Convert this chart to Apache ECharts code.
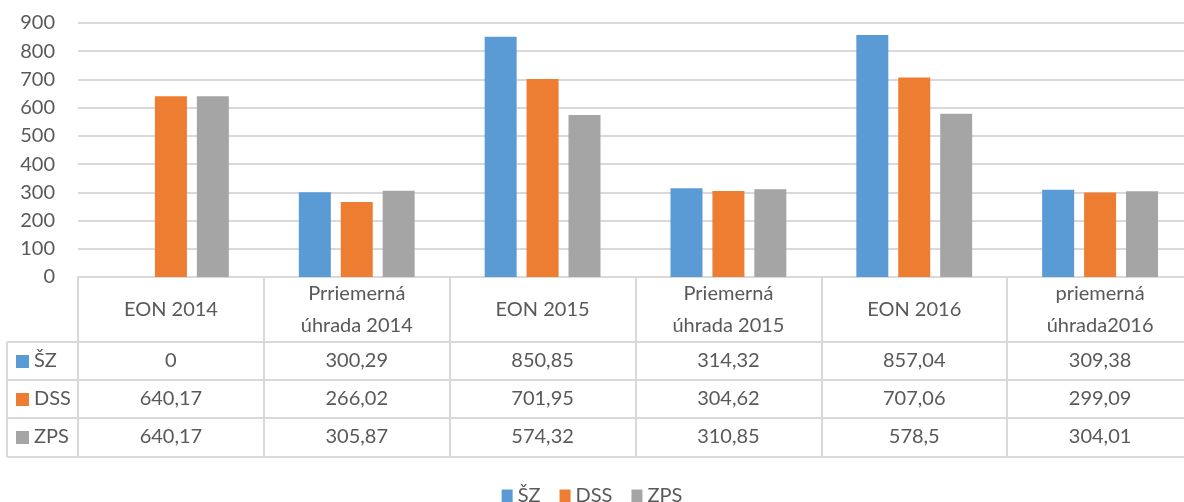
<!DOCTYPE html>
<html>
<head>
<meta charset="utf-8">
<script src="https://cdn.jsdelivr.net/npm/echarts@6/dist/echarts.min.js"></script>
<style>
  html, body { margin: 0; padding: 0; background: #fff; }
  #main { width: 1184px; height: 502px; }
</style>
</head>
<body>
<div id="main"></div>
<script>
// data
const categories = ['EON 2014', 'Prriemerná\núhrada 2014', 'EON 2015', 'Priemerná\núhrada 2015', 'EON 2016', 'priemerná\núhrada2016']
const seriesNames = ['ŠZ', 'DSS', 'ZPS']
const szValues = [0, 300.29, 850.85, 314.32, 857.04, 309.38]
const dssValues = [640.17, 266.02, 701.95, 304.62, 707.06, 299.09]
const zpsValues = [640.17, 305.87, 574.32, 310.85, 578.5, 304.01]
const yTicks = [0, 100, 200, 300, 400, 500, 600, 700, 800, 900]

const colors = ['#5b9bd5', '#ed7d31', '#a5a5a5']
const textColor = '#595959'
const lineColor = '#d9d9d9'
const font = 'Lato, "Open Sans", sans-serif'

// layout of the data table under the plot
const plotTop = 23
const axisY = 277
const headerH = 65
const rowH = 38
const tableLeft = 7
const rowTops = [axisY + headerH, axisY + headerH + rowH, axisY + headerH + rowH * 2]
const tableBottom = axisY + headerH + rowH * 3 + 1

const allValues = [szValues, dssValues, zpsValues]
const fmt = v => String(v).replace('.', ',')

const chart = echarts.init(document.getElementById('main'))

// header + value rows as one rich label per category
const labelFormatter = (value, idx) => {
  const lines = value.split('\n')
  let head
  if (lines.length === 1) {
    head = '{h|' + lines[0] + '}'
  } else {
    head = lines.map(l => '{h2|' + l + '}').join('\n')
  }
  const vals = allValues.map(arr => '{v|' + fmt(arr[idx]) + '}').join('\n')
  return head + '\n' + vals
}

const graphics = []
// horizontal row lines
rowTops.concat([tableBottom]).forEach(y => {
  graphics.push({
    type: 'line',
    shape: { x1: tableLeft, y1: y, x2: 1184, y2: y },
    style: { stroke: lineColor, lineWidth: 2 }
  })
})
// left border of row header
graphics.push({
  type: 'line',
  shape: { x1: tableLeft, y1: rowTops[0], x2: tableLeft, y2: tableBottom },
  style: { stroke: lineColor, lineWidth: 2 }
})
// row header: color key + name
seriesNames.forEach((name, i) => {
  const cy = rowTops[i] + rowH / 2
  graphics.push({
    type: 'rect',
    shape: { x: 16, y: cy - 6, width: 13, height: 13 },
    style: { fill: colors[i] }
  })
  graphics.push({
    type: 'text',
    x: 34,
    y: cy,
    style: { text: name, fill: textColor, font: '20px ' + font, verticalAlign: 'middle' }
  })
})

const option = {
  animation: false,
  color: colors,
  textStyle: { fontFamily: font },
  grid: {
    left: 78,
    right: -9,
    top: plotTop,
    bottom: 502 - axisY,
    outerBoundsMode: 'none'
  },
  legend: {
    data: seriesNames,
    top: 481,
    left: 'center',
    icon: 'rect',
    itemWidth: 11,
    itemHeight: 13,
    itemGap: 19,
    textStyle: { color: textColor, fontSize: 20, fontFamily: font }
  },
  xAxis: {
    type: 'category',
    data: categories,
    axisLine: { lineStyle: { color: lineColor, width: 2 } },
    axisTick: {
      show: true,
      interval: 0,
      length: tableBottom - axisY,
      lineStyle: { color: lineColor, width: 2 }
    },
    axisLabel: {
      interval: 0,
      margin: 0,
      color: textColor,
      formatter: labelFormatter,
      rich: {
        h: { fontSize: 20, fontFamily: font, color: textColor, lineHeight: headerH, align: 'center' },
        h2: { fontSize: 20, fontFamily: font, color: textColor, lineHeight: headerH / 2, align: 'center' },
        v: { fontSize: 20, fontFamily: font, color: textColor, lineHeight: rowH, align: 'center' }
      }
    }
  },
  yAxis: {
    type: 'value',
    min: yTicks[0],
    max: yTicks[yTicks.length - 1],
    interval: 100,
    axisLine: { show: false },
    axisTick: { show: false },
    axisLabel: { color: textColor, fontSize: 20, fontFamily: font, margin: 23 },
    splitLine: { lineStyle: { color: lineColor, width: 2 } }
  },
  series: seriesNames.map((name, i) => ({
    name: name,
    type: 'bar',
    data: allValues[i],
    barWidth: 32,
    barGap: '31%'
  })),
  graphic: graphics
}

chart.setOption(option)
</script>
</body>
</html>
